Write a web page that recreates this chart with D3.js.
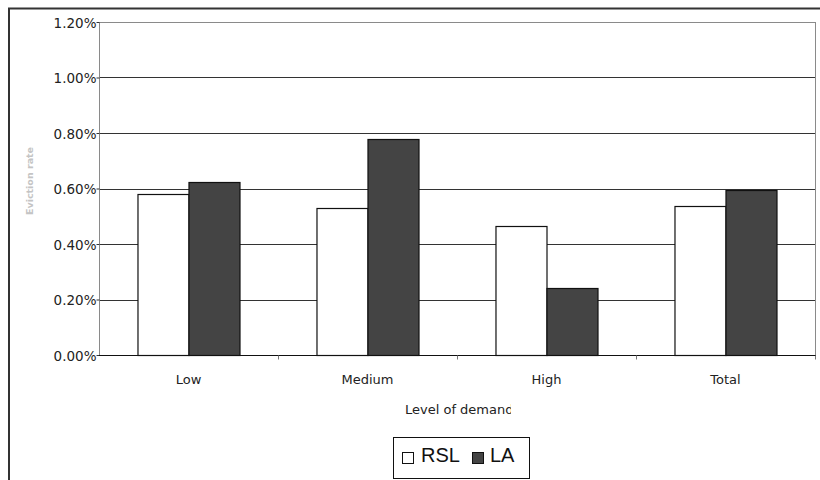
<!DOCTYPE html>
<html>
<head>
<meta charset="utf-8">
<script src="https://cdn.jsdelivr.net/npm/d3@7"></script>
<style>
  html, body { margin: 0; padding: 0; background: #fff; }
  svg { display: block; }
</style>
</head>
<body>
<svg id="chart" width="820" height="480"></svg>
<script>
// Eviction rate by level of demand, RSL vs LA
const categories = ["Low", "Medium", "High", "Total"];
const seriesNames = ["RSL", "LA"];
const rslValues = [0.0058, 0.00528, 0.00464, 0.00536];
const laValues = [0.00623, 0.00778, 0.00243, 0.00593];
const yTicks = [0, 0.002, 0.004, 0.006, 0.008, 0.010, 0.012];
const seriesColors = ["#ffffff", "#444444"];

const svg = d3.select("#chart");
const font = "'DejaVu Sans', Verdana, sans-serif";

// Outer frame (runs off the right and bottom edges)
svg.append("rect")
  .attr("x", 9).attr("y", 8.5)
  .attr("width", 830).attr("height", 490)
  .attr("fill", "none").attr("stroke", "#333").attr("stroke-width", 2);

const plot = { left: 99, right: 815, top: 22, bottom: 355 };

const x = d3.scaleBand()
  .domain(categories)
  .range([plot.left, plot.right])
  .paddingInner(0.43)
  .paddingOuter(0.215);

const xSub = d3.scaleBand()
  .domain(seriesNames)
  .range([0, x.bandwidth()]);

const y = d3.scaleLinear()
  .domain([0, 0.012])
  .range([plot.bottom, plot.top]);

// Horizontal gridlines
svg.append("g")
  .selectAll("line")
  .data(yTicks.filter(t => t > 0))
  .join("line")
  .attr("x1", plot.left).attr("x2", plot.right)
  .attr("y1", d => Math.round(y(d)) + 0.5)
  .attr("y2", d => Math.round(y(d)) + 0.5)
  .attr("stroke", d => d === 0.012 ? "#8a8a8a" : "#333")
  .attr("stroke-width", 1);

// Right edge of plot area
svg.append("line")
  .attr("x1", plot.right + 0.5).attr("x2", plot.right + 0.5)
  .attr("y1", plot.top).attr("y2", plot.bottom)
  .attr("stroke", "#8a8a8a");

// Bars
const rows = categories.map((c, i) => ({ cat: c, vals: [rslValues[i], laValues[i]] }));
const groups = svg.append("g")
  .selectAll("g")
  .data(rows)
  .join("g")
  .attr("transform", d => `translate(${x(d.cat)},0)`);

groups.selectAll("rect")
  .data(d => d.vals.map((v, j) => ({ name: seriesNames[j], v, j })))
  .join("rect")
  .attr("x", d => Math.round(xSub(d.name)) + 0.5)
  .attr("y", d => Math.round(y(d.v)) + 0.5)
  .attr("width", xSub.bandwidth())
  .attr("height", d => Math.round(y(0)) - Math.round(y(d.v)))
  .attr("fill", d => seriesColors[d.j])
  .attr("stroke", "#111")
  .attr("stroke-width", 1.2);

// Y axis
const yAxis = d3.axisLeft(y)
  .tickValues(yTicks)
  .tickFormat(d3.format(".2%"))
  .tickSize(3)
  .tickPadding(0);

const yg = svg.append("g")
  .attr("transform", `translate(${plot.left + 0.5},0)`)
  .call(yAxis);
yg.select(".domain").attr("stroke", "#8a8a8a").attr("d", `M0,${plot.top}V${plot.bottom}`);
yg.selectAll(".tick line").attr("stroke", "#333");
yg.selectAll(".tick text")
  .attr("font-family", font).attr("font-size", 13.5).attr("fill", "#222")
  .attr("dy", "0.4em");

// X axis with ticks between categories
const xg = svg.append("g")
  .attr("transform", `translate(0,${plot.bottom + 0.5})`);
xg.append("line")
  .attr("x1", plot.left).attr("x2", plot.right + 1)
  .attr("stroke", "#111").attr("stroke-width", 1.2);
xg.selectAll("line.sep")
  .data(categories.map((c, i) => i + 1))
  .join("line")
  .attr("class", "sep")
  .attr("x1", i => Math.round(plot.left + i * (plot.right - plot.left) / categories.length) + 0.5)
  .attr("x2", i => Math.round(plot.left + i * (plot.right - plot.left) / categories.length) + 0.5)
  .attr("y1", 0).attr("y2", 4)
  .attr("stroke", "#777");
xg.selectAll("text")
  .data(categories)
  .join("text")
  .attr("x", d => x(d) + x.bandwidth() / 2)
  .attr("y", 28)
  .attr("text-anchor", "middle")
  .attr("font-family", font).attr("font-size", 13).attr("fill", "#222")
  .text(d => d);

// X axis title (clipped by its box)
svg.append("clipPath").attr("id", "xtitle-clip")
  .append("rect").attr("x", 380).attr("y", 395).attr("width", 131).attr("height", 25);
svg.append("text")
  .attr("x", 405).attr("y", 414)
  .attr("clip-path", "url(#xtitle-clip)")
  .attr("font-family", font).attr("font-size", 13).attr("fill", "#222")
  .text("Level of demand");

// Y axis title
svg.append("text")
  .attr("transform", "translate(33,181) rotate(-90)")
  .attr("text-anchor", "middle")
  .attr("font-family", font).attr("font-size", 9.5).attr("font-weight", "bold")
  .attr("fill", "#c4c4c4")
  .text("Eviction rate");

// Legend
const legend = svg.append("g");
legend.append("rect")
  .attr("x", 393.5).attr("y", 437.5).attr("width", 136).attr("height", 41)
  .attr("fill", "#fff").attr("stroke", "#111");
const legendItems = [
  { name: "RSL", sx: 402, tx: 421 },
  { name: "LA", sx: 472, tx: 490 }
];
legendItems.forEach((d, i) => {
  legend.append("rect")
    .attr("x", d.sx + 0.5).attr("y", 452.5).attr("width", 11).attr("height", 11)
    .attr("fill", seriesColors[i]).attr("stroke", "#111");
  legend.append("text")
    .attr("x", d.tx).attr("y", 462)
    .attr("font-family", "'Liberation Sans', Arial, sans-serif")
    .attr("font-size", 20).attr("fill", "#111")
    .text(d.name);
});
</script>
</body>
</html>
